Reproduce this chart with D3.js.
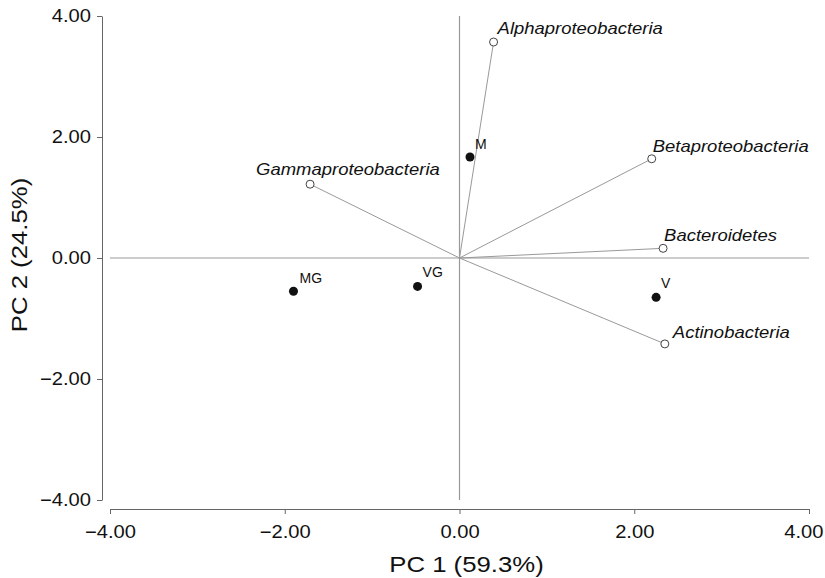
<!DOCTYPE html>
<html>
<head>
    <meta charset="utf-8">
    <title>PCA Biplot</title>
    <script src="https://d3js.org/d3.v7.min.js"></script>
    <style>
        body { margin: 0; background: #fff; }
        text { font-family: "Liberation Sans", Arial, Helvetica, sans-serif; fill: #111; }
    </style>
</head>
<body>
<svg width="825" height="578"></svg>
<script>
    // sample scores
    const samples = ["M", "MG", "VG", "V"];
    const sampleX = [0.12, -1.90, -0.48, 2.25];
    const sampleY = [1.67, -0.55, -0.47, -0.65];

    // taxon loadings (vectors)
    const taxa = ["Alphaproteobacteria", "Betaproteobacteria", "Gammaproteobacteria", "Bacteroidetes", "Actinobacteria"];
    const taxaX = [0.39, 2.20, -1.71, 2.33, 2.35];
    const taxaY = [3.57, 1.64, 1.22, 0.16, -1.42];

    const tickValues = [-4, -2, 0, 2, 4];

    const width = 825;
    const height = 578;
    const stretch = 1.12; // original font runs wider than Liberation Sans

    const x = d3.scaleLinear().domain([-4, 4]).range([110, 809]);
    const y = d3.scaleLinear().domain([-4, 4]).range([500, 16]);

    const svg = d3.select("svg");

    // label offsets in pixels (layout only)
    const taxaLabelOffset = [[4, -8], [1, -7], [-54, -9], [1, -7], [8, -6]];
    const sampleLabelOffset = [[5, -8], [6, -8], [5, -9], [5, -9]];

    const fmt = d => d3.format(".2f")(d).replace("-", "\u2212");

    // axes, detached like the original
    const xAxis = svg.append("g")
        .attr("transform", "translate(0,509)")
        .call(d3.axisBottom(x).tickValues(tickValues).tickFormat(fmt).tickSize(5).tickSizeOuter(0).tickPadding(11));
    const yAxis = svg.append("g")
        .attr("transform", "translate(102,0)")
        .call(d3.axisLeft(y).tickValues(tickValues).tickFormat(fmt).tickSize(5).tickSizeOuter(0).tickPadding(6));

    [xAxis, yAxis].forEach(a => {
        a.select(".domain").attr("stroke", "#666");
        a.selectAll(".tick line").attr("stroke", "#666");
        a.selectAll(".tick text")
            .style("font-size", "18px")
            .attr("fill", "#111")
            .each(function() {
                const t = d3.select(this);
                const tx = +t.attr("x") || 0;
                t.attr("x", 0).attr("transform", "translate(" + tx + ",0) scale(" + stretch + ",1)");
            });
    });

    // last x label is pulled in so it stays on the page
    xAxis.selectAll(".tick text")
        .filter(d => d === 4)
        .attr("text-anchor", "end")
        .attr("transform", "translate(14,0) scale(" + stretch + ",1)");

    // reference lines through origin
    svg.append("line")
        .attr("x1", x(-4)).attr("x2", x(4))
        .attr("y1", y(0)).attr("y2", y(0))
        .attr("stroke", "#999").attr("stroke-width", 1.2);
    svg.append("line")
        .attr("x1", x(0)).attr("x2", x(0))
        .attr("y1", y(4)).attr("y2", y(-4))
        .attr("stroke", "#999").attr("stroke-width", 1.2);

    // vectors
    const taxaData = taxa.map((t, i) => ({name: t, x: taxaX[i], y: taxaY[i], off: taxaLabelOffset[i]}));
    svg.selectAll(".vec")
        .data(taxaData)
        .enter().append("line")
        .attr("class", "vec")
        .attr("x1", x(0)).attr("y1", y(0))
        .attr("x2", d => x(d.x)).attr("y2", d => y(d.y))
        .attr("stroke", "#999").attr("stroke-width", 1);

    svg.selectAll(".taxon")
        .data(taxaData)
        .enter().append("circle")
        .attr("class", "taxon")
        .attr("cx", d => x(d.x)).attr("cy", d => y(d.y))
        .attr("r", 4)
        .attr("fill", "#fff").attr("stroke", "#444").attr("stroke-width", 1);

    svg.selectAll(".taxonLabel")
        .data(taxaData)
        .enter().append("text")
        .attr("transform", d => "translate(" + (x(d.x) + d.off[0]) + "," + (y(d.y) + d.off[1]) + ") scale(" + stretch + ",1)")
        .style("font-size", "16.5px")
        .style("font-style", "italic")
        .text(d => d.name);

    // samples
    const sampleData = samples.map((s, i) => ({name: s, x: sampleX[i], y: sampleY[i], off: sampleLabelOffset[i]}));
    svg.selectAll(".sample")
        .data(sampleData)
        .enter().append("circle")
        .attr("cx", d => x(d.x)).attr("cy", d => y(d.y))
        .attr("r", 4.5)
        .attr("fill", "#111");

    svg.selectAll(".sampleLabel")
        .data(sampleData)
        .enter().append("text")
        .attr("x", d => x(d.x) + d.off[0])
        .attr("y", d => y(d.y) + d.off[1])
        .style("font-size", "14px")
        .text(d => d.name);

    // axis titles
    svg.append("text")
        .attr("transform", "translate(" + (x(0) + 7) + ",572) scale(" + stretch + ",1)")
        .attr("text-anchor", "middle")
        .style("font-size", "23px")
        .text("PC 1 (59.3%)");
    svg.append("text")
        .attr("transform", "translate(27," + (y(0) - 3) + ") rotate(-90) scale(" + stretch + ",1)")
        .attr("text-anchor", "middle")
        .style("font-size", "23px")
        .text("PC 2 (24.5%)");
</script>
</body>
</html>
